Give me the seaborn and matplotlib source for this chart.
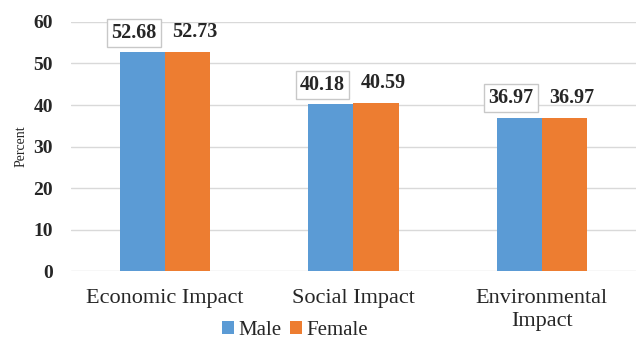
import matplotlib
matplotlib.use("Agg")
import matplotlib.pyplot as plt
import pandas as pd
import seaborn as sns

categories = ["Economic Impact", "Social Impact", "Environmental\nImpact"]
male = [52.68, 40.18, 36.97]
female = [52.73, 40.59, 36.97]
yticks = [0, 10, 20, 30, 40, 50, 60]


def label_bars(ax, container, values, dx, boxed):
    for patch, v in zip(container.patches, values):
        x = patch.get_x() + patch.get_width() / 2
        y = patch.get_height()
        kw = {}
        if boxed:
            kw["bbox"] = dict(boxstyle="square,pad=0.2", facecolor="white", edgecolor="#c8c8c8", linewidth=1)
        ax.annotate(
            f"{v:.2f}",
            (x, y),
            xytext=(dx, 7),
            textcoords="offset points",
            ha="center",
            va="bottom",
            fontsize=14.5,
            fontweight="bold",
            **kw,
        )


def main() -> None:
    sns.set_theme(style="white")
    plt.rcParams["font.family"] = ["Liberation Serif", "DejaVu Serif"]

    df = pd.DataFrame(
        {
            "category": categories * 2,
            "group": ["Male"] * len(male) + ["Female"] * len(female),
            "value": male + female,
        }
    )

    fig = plt.figure(figsize=(6.38, 3.38), dpi=100)
    ax = fig.add_axes([0.111, 0.198, 0.886, 0.737])
    sns.barplot(
        data=df,
        x="category",
        y="value",
        hue="group",
        palette={"Male": "#5B9BD5", "Female": "#ED7D31"},
        width=0.48,
        saturation=1,
        gap=0,
        linewidth=0,
        ax=ax,
        legend=True,
    )

    ax.set_xlim(-0.5, 2.5)
    ax.set_ylim(0, 60)
    ax.set_yticks(yticks)
    ax.set_yticklabels([str(t) for t in yticks], fontsize=14, fontweight="bold")
    ax.tick_params(axis="x", labelsize=16, length=0, pad=13)
    ax.tick_params(axis="y", length=0, pad=13)
    for t in ax.get_xticklabels():
        t.set_linespacing(1.3)
    ax.yaxis.grid(True, color="#d9d9d9", linewidth=1)
    ax.set_axisbelow(True)
    for s in ax.spines.values():
        s.set_visible(False)
    ax.set_xlabel("")
    ax.set_ylabel("Percent", fontsize=10, labelpad=4)

    label_bars(ax, ax.containers[0], male, -6, True)
    label_bars(ax, ax.containers[1], female, 5, False)

    handles, labels = ax.get_legend_handles_labels()
    ax.get_legend().remove()
    fig.legend(
        handles,
        labels,
        loc="lower center",
        bbox_to_anchor=(0.462, -0.06),
        ncol=2,
        frameon=False,
        prop={"family": ["Liberation Serif"], "size": 15},
        handlelength=0.6,
        handleheight=0.6,
        handletextpad=0.2,
        columnspacing=0.4,
    )

    fig.savefig("out.png", dpi=100)
    plt.close(fig)


if __name__ == "__main__":
    main()
